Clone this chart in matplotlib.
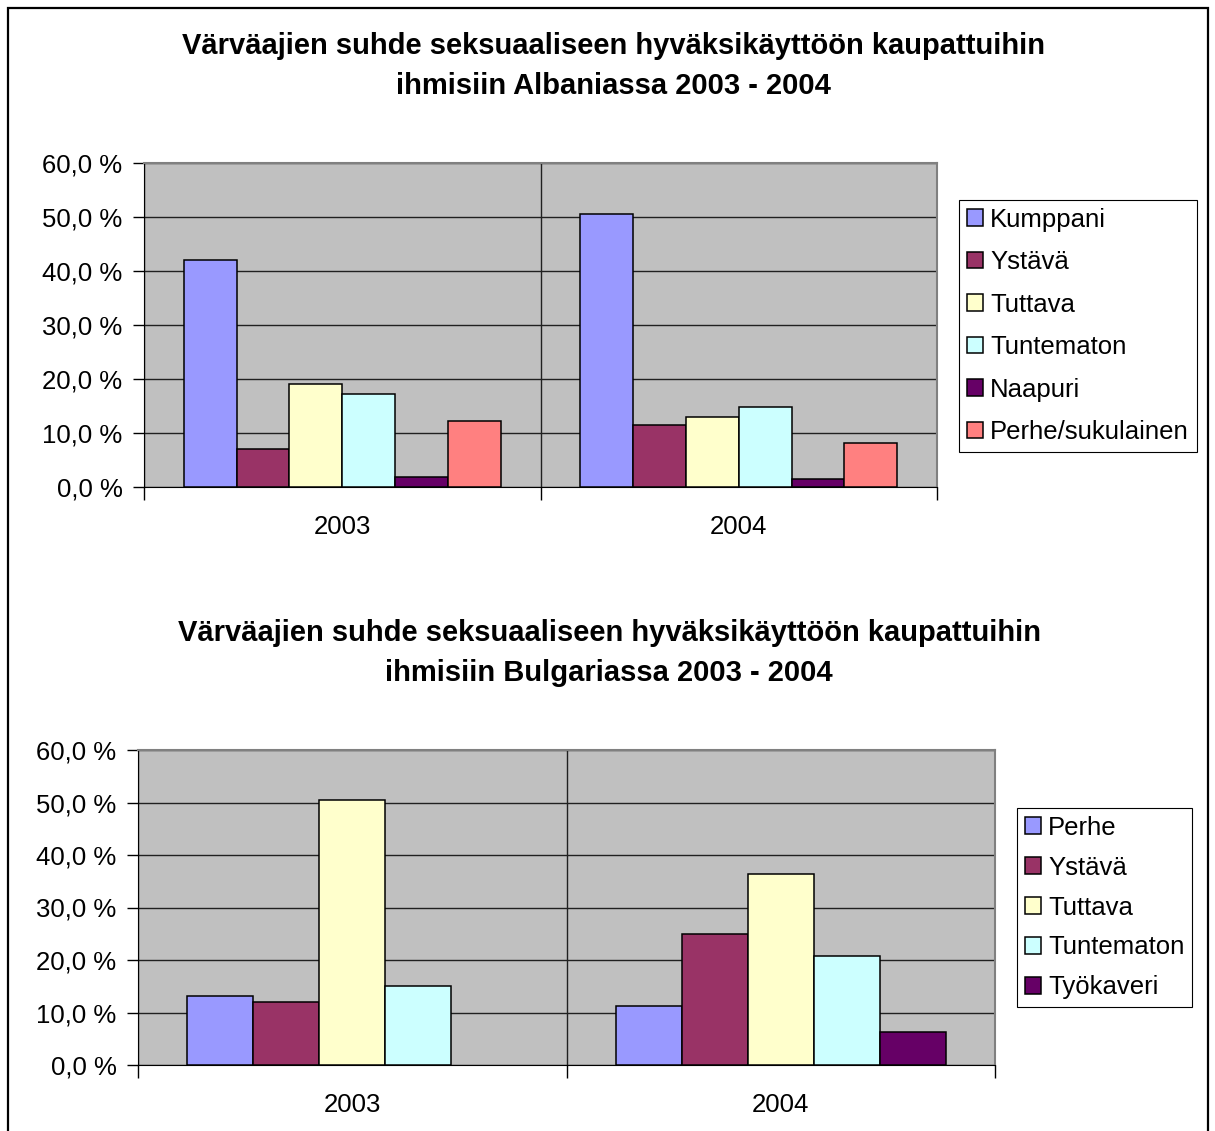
import numpy as np
import matplotlib
matplotlib.use("Agg")
import matplotlib.pyplot as plt
from matplotlib.patches import Rectangle
from matplotlib.ticker import FuncFormatter, FixedLocator

plt.rcParams['font.family'] = ['Liberation Sans', 'DejaVu Sans']

years = ['2003', '2004']

# Albania
alb_series = ['Kumppani', 'Ystävä', 'Tuttava', 'Tuntematon', 'Naapuri', 'Perhe/sukulainen']
alb_2003 = [42.1, 7.0, 19.1, 17.3, 1.8, 12.2]
alb_2004 = [50.5, 11.4, 12.9, 14.8, 1.4, 8.1]
alb_colors = ['#9999FF', '#993366', '#FFFFCC', '#CCFFFF', '#660066', '#FF8080']

# Bulgaria (no Työkaveri value for 2003)
bul_series = ['Perhe', 'Ystävä', 'Tuttava', 'Tuntematon', 'Työkaveri']
bul_2003 = [13.1, 12.0, 50.4, 15.0, np.nan]
bul_2004 = [11.3, 25.0, 36.4, 20.8, 6.3]
bul_colors = ['#9999FF', '#993366', '#FFFFCC', '#CCFFFF', '#660066']

W, H = 1215, 1131
fig = plt.figure(figsize=(W / 100, H / 100), dpi=100)

# outer frame of the sheet
fig.patches.append(Rectangle((8 / W, -0.05), 1200 / W, 1 - 8 / H + 0.05,
                             transform=fig.transFigure, fill=False,
                             edgecolor='black', linewidth=1.6))

pct = FuncFormatter(lambda v, p: ('%.1f %%' % v).replace('.', ','))


def draw(ax, series, v03, v04, colors, legend_box, labelspacing):
    n = len(series)
    w = 1.0 / (n + 1.5)
    x = np.arange(len(years))
    for i, name in enumerate(series):
        off = (i - (n - 1) / 2) * w
        ax.bar(x + off, [v03[i], v04[i]], width=w, color=colors[i],
               edgecolor='black', linewidth=1.1, label=name, zorder=3)
    ax.set_facecolor('#C0C0C0')
    ax.set_xlim(-0.5, 1.5)
    ax.set_ylim(0, 60)
    ax.yaxis.set_major_locator(FixedLocator(np.arange(0, 61, 10)))
    ax.yaxis.set_major_formatter(pct)
    ax.xaxis.set_major_locator(FixedLocator([-0.5, 0.5, 1.5]))
    ax.xaxis.set_minor_locator(FixedLocator(x))
    ax.xaxis.set_major_formatter(FuncFormatter(lambda v, p: ''))
    ax.xaxis.set_minor_formatter(FuncFormatter(lambda v, p: years[int(round(v))]))
    ax.tick_params(axis='x', which='major', length=9, width=1, direction='out')
    ax.tick_params(axis='x', which='minor', length=0, labelsize=18.5, pad=20)
    ax.tick_params(axis='y', length=8, width=1, direction='out', labelsize=18.5, pad=7.5)
    ax.grid(axis='y', color='#202020', linewidth=1, zorder=1)
    ax.grid(axis='x', which='major', color='#202020', linewidth=1, zorder=1)
    ax.set_axisbelow(True)
    for s in ['left', 'bottom']:
        ax.spines[s].set_color('black')
    for s in ['top', 'right']:
        ax.spines[s].set_color('#808080')
        ax.spines[s].set_linewidth(1.5)
    leg = ax.legend(loc='upper left', bbox_to_anchor=legend_box,
                    bbox_transform=fig.transFigure, borderaxespad=0,
                    fontsize=18.5, frameon=True, fancybox=False, shadow=False,
                    framealpha=1, edgecolor='black', handlelength=0.62,
                    handleheight=0.62, handletextpad=0.3, labelspacing=labelspacing,
                    borderpad=0.3)
    leg.get_frame().set_linewidth(0.8)


ax1 = fig.add_axes([144 / W, 1 - 487 / H, (937 - 144) / W, (487 - 163) / H])
draw(ax1, alb_series, alb_2003, alb_2004, alb_colors,
     (959 / W, 1 - 200 / H), 0.72)

ax2 = fig.add_axes([138 / W, 1 - 1065 / H, (995 - 138) / W, (1065 - 750) / H])
draw(ax2, bul_series, bul_2003, bul_2004, bul_colors,
     (1017 / W, 1 - 808 / H), 0.62)

fig.text(613 / W, 1 - 66 / H,
         'Värväajien suhde seksuaaliseen hyväksikäyttöön kaupattuihin\nihmisiin Albaniassa 2003 - 2004',
         ha='center', va='center', multialignment='center', fontsize=21,
         fontweight='bold', linespacing=1.58)
fig.text(609 / W, 1 - 653 / H,
         'Värväajien suhde seksuaaliseen hyväksikäyttöön kaupattuihin\nihmisiin Bulgariassa 2003 - 2004',
         ha='center', va='center', multialignment='center', fontsize=21,
         fontweight='bold', linespacing=1.58)

fig.savefig('out.png', dpi=100, facecolor='white')
